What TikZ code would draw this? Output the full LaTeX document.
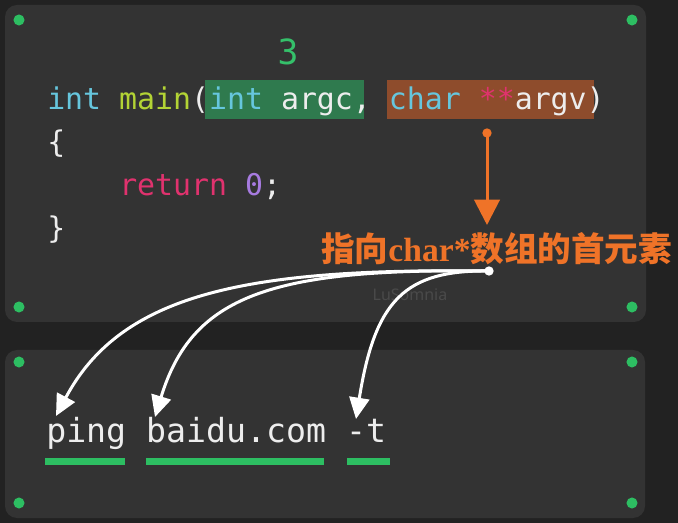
\documentclass[tikz,border=0pt]{standalone}
\usepackage{fontspec}
\setmonofont{DejaVu Sans Mono}
\newfontfamily\cjk{Noto Sans CJK SC}
\newfontfamily\serifb{Liberation Serif}
\newfontfamily\wmfont{Noto Sans}
\usetikzlibrary{arrows.meta}
\definecolor{bgc}{HTML}{222222}
\definecolor{panelc}{HTML}{333333}
\definecolor{dotc}{HTML}{2DBE62}
\definecolor{ccyan}{HTML}{66C6DD}
\definecolor{clime}{HTML}{B3D335}
\definecolor{cpink}{HTML}{E0326E}
\definecolor{cpurple}{HTML}{A77BE0}
\definecolor{cwhite}{HTML}{EDEDED}
\definecolor{gbox}{HTML}{2F7A4E}
\definecolor{obox}{HTML}{8E4C2C}
\definecolor{corange}{HTML}{EF7328}
\definecolor{cthree}{HTML}{35C06A}
\definecolor{wmc}{HTML}{4A4A4A}
\tikzset{
  gdot/.style={circle, fill=dotc, minimum size=8.3pt, inner sep=0pt},
  code/.style={font=\ttfamily\fontsize{22.4pt}{26pt}\selectfont, text=cwhite, inner sep=0pt, anchor=base west},
  cmd/.style={font=\ttfamily\fontsize{24.9pt}{28pt}\selectfont, text=cwhite, inner sep=0pt, anchor=base west},
  panel/.style={fill=panelc, rounded corners=9pt},
  uline/.style={fill=dotc},
  wcurve/.style={draw=white, line width=2.25pt, -{Triangle[length=16pt, width=15pt]}},
}
\begin{document}
\begin{tikzpicture}[x=0.75pt, y=-0.75pt]
\fill[bgc] (0,0) rectangle (678,523);
\useasboundingbox (0,0) rectangle (678,523);
% panels
\fill[panel] (5,5) rectangle (646,322);
\fill[panel] (5,350) rectangle (645,518);
% dots
\node[gdot] (d1) at (19,20) {};
\node[gdot] (d2) at (632,20) {};
\node[gdot] (d3) at (19,307) {};
\node[gdot] (d4) at (632,307) {};
\node[gdot] (d5) at (19,362) {};
\node[gdot] (d6) at (632,362) {};
\node[gdot] (d7) at (19,503) {};
\node[gdot] (d8) at (632,503) {};
% highlight boxes
\fill[gbox] (205,80) rectangle (364,119);
\fill[obox] (387,80) rectangle (594,119);
% code
\node[font=\ttfamily\fontsize{26pt}{30pt}\selectfont, text=cthree, inner sep=0pt, anchor=base] (three) at (288,65) {3};
\node[code] (l1) at (47,110) {\textcolor{ccyan}{int} \textcolor{clime}{main}(\textcolor{ccyan}{int} argc, \textcolor{ccyan}{char} \textcolor{cpink}{**}argv)};
\node[code] (l2) at (47,153) {\{};
\node[code] (l3) at (119,196) {\textcolor{cpink}{return} \textcolor{cpurple}{0};};
\node[code] (l4) at (47,239) {\}};
% watermark
\node[font=\wmfont\fontsize{12pt}{14pt}\selectfont, text=wmc, inner sep=0pt] (wm) at (410,295) {LuSomnia};
% orange arrow
\node[circle, fill=corange, minimum size=7pt, inner sep=0pt] (oa) at (487,133) {};
\coordinate (ob) at (487,225);
\draw[corange, line width=2.25pt, -{Triangle[length=19pt, width=19pt]}] (oa.center) -- (ob);
\node[inner sep=0pt, anchor=base west, text=corange, font=\fontsize{25.2pt}{28pt}\selectfont\bfseries] (lab) at (321,262) {{\cjk 指向}{\serifb char*}{\cjk 数组的首元素}};
% command line
\node[cmd] (cl) at (46,443) {ping baidu.com -t};
\fill[uline] (45,458) rectangle (125,465);
\fill[uline] (146,458) rectangle (324,465);
\fill[uline] (347,458) rectangle (390,465);
% white curves
\node[circle, fill=white, minimum size=7pt, inner sep=0pt] (src) at (489,271) {};
\coordinate (t1) at (56,416);
\coordinate (t2) at (155,417);
\coordinate (t3) at (356,419);
\draw[wcurve] (src.center) .. controls (250,268) and (122,292) .. (t1);
\draw[wcurve] (src.center) .. controls (270,268) and (192,296) .. (t2);
\draw[wcurve] (src.center) .. controls (405,270) and (375,300) .. (t3);
\end{tikzpicture}
\end{document}
